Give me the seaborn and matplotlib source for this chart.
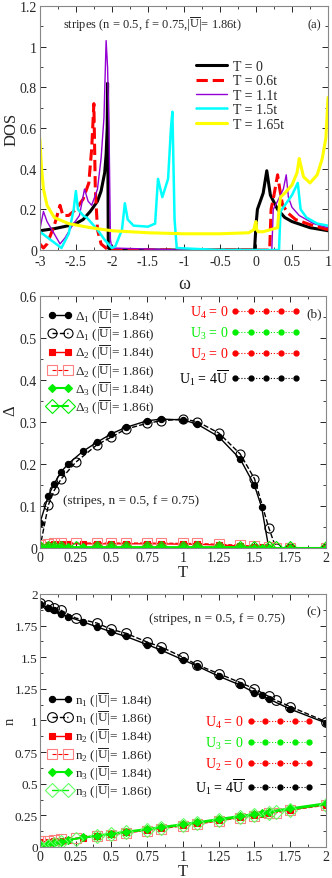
import numpy as np
import pandas as pd
import seaborn as sns
import matplotlib.pyplot as plt
from matplotlib.lines import Line2D
from matplotlib.ticker import MultipleLocator

# ---- panel (a): DOS curves ----
w_t0 = [-3, -2.8, -2.6, -2.5, -2.4, -2.3, -2.2, -2.15, -2.1, -2.08, -2.065, -2.06, -2.05, -2.0, -1.0, -0.02, 0.0, 0.02,
        0.05, 0.1, 0.15, 0.2, 0.3, 0.4, 0.5, 0.75, 1.0]
dos_t0 = [0.095, 0.105, 0.12, 0.13, 0.15, 0.19, 0.24, 0.29, 0.38, 0.47, 0.6, 0.82, 0.01, 0.0, 0.0, 0.0, 0.12, 0.2,
          0.23, 0.28, 0.39, 0.27, 0.2, 0.16, 0.14, 0.11, 0.095]

w_t06 = [-3, -2.95, -2.9, -2.8, -2.72, -2.68, -2.6, -2.5, -2.4, -2.32, -2.28, -2.25, -2.23, -2.2, -2.15, -2.05, -1.0,
         0.19, 0.21, 0.25, 0.3, 0.33, 0.37, 0.45, 0.55, 0.75, 1.0]
dos_t06 = [0.03, 0.01, 0.03, 0.12, 0.22, 0.17, 0.17, 0.2, 0.25, 0.33, 0.5, 0.72, 0.3, 0.1, 0.03, 0.0, 0.0,
           0.0, 0.2, 0.27, 0.37, 0.3, 0.22, 0.18, 0.15, 0.125, 0.1]

w_t11 = [-3, -2.95, -2.9, -2.8, -2.72, -2.65, -2.55, -2.45, -2.38, -2.33, -2.28, -2.2, -2.15, -2.11, -2.08, -2.06,
         -2.04, -2.02, -2.0, -1.0, 0.22, 0.24, 0.3, 0.38, 0.42, 0.45, 0.5, 0.6, 0.8, 1.0]
dos_t11 = [0.1, 0.19, 0.14, 0.08, 0.03, 0.06, 0.12, 0.17, 0.3, 0.24, 0.22, 0.3, 0.45, 0.65, 1.03, 0.9,
           0.6, 0.05, 0.01, 0.0, 0.0, 0.2, 0.24, 0.3, 0.37, 0.26, 0.21, 0.17, 0.13, 0.11]

w_t15 = [-3, -2.85, -2.7, -2.6, -2.53, -2.5, -2.47, -2.4, -2.35, -2.2, -2.1, -2.0, -1.95, -1.86, -1.82, -1.78,
         -1.7, -1.5, -1.4, -1.36, -1.3, -1.22, -1.18, -1.16, -1.13, -1.1, -0.5, 0.32, 0.34, 0.4, 0.5, 0.58,
         0.62, 0.7, 0.85, 1.0]
dos_t15 = [0.09, 0.05, 0.01, 0.08, 0.2, 0.29, 0.2, 0.17, 0.16, 0.1, 0.05, 0.01, 0.02, 0.1, 0.23, 0.15,
           0.12, 0.115, 0.13, 0.35, 0.26, 0.35, 0.6, 0.68, 0.15, 0.01, 0.0, 0.0, 0.19, 0.22, 0.27, 0.33,
           0.2, 0.16, 0.13, 0.12]

w_t165 = [-3, -2.98, -2.95, -2.9, -2.8, -2.6, -2.3, -2.0, -1.5, -1.0, -0.5, -0.1, -0.03, -0.01, 0.0, 0.01,
          0.03, 0.1, 0.2, 0.3, 0.32, 0.34, 0.4, 0.5, 0.57, 0.6, 0.62, 0.66, 0.75, 0.85, 0.92, 0.97, 1.0]
dos_t165 = [0.55, 0.42, 0.3, 0.22, 0.16, 0.13, 0.11, 0.095, 0.085, 0.08, 0.08, 0.085, 0.1, 0.13, 0.14, 0.1,
            0.09, 0.09, 0.1, 0.11, 0.2, 0.26, 0.28, 0.32, 0.38, 0.45, 0.42, 0.36, 0.33, 0.37, 0.45, 0.55, 0.75]

# ---- panels (b) and (c) ----
T_a = [0, 0.06, 0.1, 0.15, 0.2, 0.3, 0.4, 0.5, 0.6, 0.75, 0.85, 1.0, 1.1, 1.25, 1.4, 1.5, 1.55, 1.6, 1.75, 2.0]
T_b = [0, 0.06, 0.1, 0.15, 0.25, 0.4, 0.5, 0.6, 0.75, 0.85, 1.0, 1.1, 1.25, 1.4, 1.5, 1.6, 1.65, 1.75, 2.0]

d1_a = [0.059, 0.125, 0.153, 0.182, 0.201, 0.23, 0.252, 0.272, 0.287, 0.303, 0.307, 0.305, 0.295, 0.265, 0.212,
        0.149, 0.097, 0.0, 0.0, 0.0]
d1_b = [0.0, 0.103, 0.137, 0.165, 0.204, 0.246, 0.264, 0.283, 0.297, 0.303, 0.307, 0.301, 0.274, 0.224, 0.165,
        0.048, 0.0, 0.0, 0.0]
d2_a = [0.006, 0.008, 0.009, 0.01, 0.01, 0.01, 0.01, 0.01, 0.01, 0.01, 0.01, 0.009, 0.009, 0.007, 0.005,
        0.003, 0.002, 0.001, 0.0, 0.0]
d2_b = [0.008, 0.01, 0.011, 0.012, 0.012, 0.012, 0.012, 0.012, 0.012, 0.012, 0.011, 0.011, 0.009, 0.007, 0.004,
        0.002, 0.0, 0.0, 0.0]
d3_a = [0.002, 0.002, 0.002, 0.002, 0.002, 0.002, 0.002, 0.002, 0.002, 0.002, 0.002, 0.002, 0.002, 0.002, 0.002,
        0.001, 0.001, 0.0, 0.0, 0.0]
d3_b = [0.0, 0.001, 0.001, 0.001, 0.001, 0.001, 0.001, 0.001, 0.001, 0.001, 0.001, 0.001, 0.001, 0.001, 0.001,
        0.001, 0.0, 0.0, 0.0]

n1_a = [1.92, 1.89, 1.87, 1.84, 1.82, 1.78, 1.74, 1.70, 1.665, 1.60, 1.555, 1.48, 1.43, 1.35, 1.28, 1.22, 1.2,
        1.17, 1.09, 0.98]
n1_b = [1.93, 1.91, 1.89, 1.87, 1.81, 1.77, 1.72, 1.69, 1.62, 1.58, 1.50, 1.44, 1.37, 1.30, 1.25, 1.19, 1.16,
        1.11, 0.99]
n2_a = [0.04, 0.042, 0.045, 0.05, 0.058, 0.072, 0.087, 0.1, 0.115, 0.135, 0.15, 0.172, 0.187, 0.21, 0.235, 0.25,
        0.26, 0.27, 0.295, 0.335]
n2_b = [0.05, 0.05, 0.055, 0.06, 0.07, 0.085, 0.095, 0.11, 0.13, 0.145, 0.165, 0.18, 0.205, 0.23, 0.245, 0.265,
        0.27, 0.29, 0.33]
n3_a = [0.02, 0.025, 0.03, 0.04, 0.055, 0.075, 0.09, 0.105, 0.12, 0.142, 0.157, 0.18, 0.195, 0.22, 0.245, 0.26,
        0.27, 0.28, 0.305, 0.345]
n3_b = [0.0, 0.01, 0.02, 0.04, 0.065, 0.085, 0.1, 0.115, 0.135, 0.15, 0.172, 0.188, 0.21, 0.235, 0.25, 0.27,
        0.28, 0.295, 0.335]

dos_curves = [
    ('T = 0', w_t0, dos_t0, 'black', '-', 2.2),
    ('T = 0.6t', w_t06, dos_t06, 'red', '--', 2.2),
    ('T = 1.1t', w_t11, dos_t11, '#9400d3', '-', 1.0),
    ('T = 1.5t', w_t15, dos_t15, 'cyan', '-', 1.8),
    ('T = 1.65t', w_t165, dos_t165, 'yellow', '-', 2.2),
]

U = r'$|\overline{\mathrm{U}}|$'
GREEN = '#00ee00'

sns.set_theme(style='ticks')
plt.rcParams['font.family'] = ['Liberation Serif', 'DejaVu Serif']
plt.rcParams['mathtext.fontset'] = 'custom'
plt.rcParams['mathtext.rm'] = 'Liberation Serif'
plt.rcParams['mathtext.it'] = 'Liberation Serif:italic'
plt.rcParams['mathtext.bf'] = 'Liberation Serif:bold'
plt.rcParams['axes.unicode_minus'] = False


def style_axes(ax, xmaj, xmin, ymaj, ymin):
    ax.xaxis.set_major_locator(MultipleLocator(xmaj))
    ax.xaxis.set_minor_locator(MultipleLocator(xmin))
    ax.yaxis.set_major_locator(MultipleLocator(ymaj))
    ax.yaxis.set_minor_locator(MultipleLocator(ymin))
    ax.tick_params(which='both', direction='in', top=True, right=True, labelsize=10, pad=2)
    ax.tick_params(which='major', length=4, width=0.7)
    ax.tick_params(which='minor', length=2, width=0.6)
    for s in ax.spines.values():
        s.set_linewidth(0.8)
        s.set_color('#888888')
    ax.xaxis.set_major_formatter(plt.FuncFormatter(lambda v, p: f'{v:g}'))
    ax.yaxis.set_major_formatter(plt.FuncFormatter(lambda v, p: f'{v:g}'))


def u_legend(ax, anchor, hl):
    cols = ['red', GREEN, 'red', 'black']
    labs = [r'U$_4$ = 0', r'U$_3$ = 0', r'U$_2$ = 0', r'U$_1$ = 4$\overline{\mathrm{U}}$']
    hs = [Line2D([], [], color=c, ls=':', lw=0.8, marker='o', ms=3.5) for c in cols]
    leg = ax.legend(hs, labs, loc='upper right', bbox_to_anchor=anchor, numpoints=5, markerfirst=False,
                    handlelength=hl, frameon=False, fontsize=10, labelspacing=0.35, handletextpad=0.2,
                    borderaxespad=0.2, labelcolor=cols)
    return leg


def series(ax, T, y, color, marker, ms, filled, ls, lw, label, mec=None):
    df = pd.DataFrame({'T': T, 'y': y})
    sns.lineplot(data=df, x='T', y='y', ax=ax, color=color, lw=lw, linestyle=ls, marker=marker, ms=ms,
                 mfc=color if filled else 'none', mec=mec or color, mew=0.8, label=label,
                 estimator=None, sort=False)


fig = plt.figure(figsize=(3.32, 8.79), dpi=100)
ax1 = fig.add_axes([0.12, 0.7144, 0.868, 0.2776])
ax2 = fig.add_axes([0.12, 0.3754, 0.862, 0.2867])
ax3 = fig.add_axes([0.12, 0.0353, 0.862, 0.2878])

# (a)
for lab, w, d, c, ls, lw in dos_curves:
    sns.lineplot(x=w, y=d, ax=ax1, color=c, linestyle=ls, lw=lw, label=lab, sort=False, estimator=None)
ax1.set_xlim(-3, 1)
ax1.set_ylim(0, 1.2)
style_axes(ax1, 0.5, 0.25, 0.2, 0.1)
ax1.tick_params(axis='x', pad=3.5)
ax1.set_xlabel('ω', fontsize=13, labelpad=5)
ax1.set_ylabel('DOS', fontsize=12)
ax1.yaxis.set_label_coords(-0.072, 0.5)
ax1.legend(loc='upper left', bbox_to_anchor=(0.5, 0.83), frameon=False, fontsize=10, handlelength=2.2,
           labelspacing=0.1, handletextpad=0.4)
ax1.text(0.08, 0.925, 'stripes (n = 0.5, f = 0.75,' + U + '= 1.86t)', transform=ax1.transAxes, fontsize=9,
         va='center')
ax1.text(0.93, 0.925, '(a)', transform=ax1.transAxes, fontsize=9, va='center')

# (b)
series(ax2, T_a, d1_a, 'black', 'o', 4.5, True, '-', 1.0, r'$\Delta_1$ (' + U + '= 1.84t)')
series(ax2, T_b, d1_b, 'black', 'o', 6.5, False, '--', 1.0, r'$\Delta_1$ (' + U + '= 1.86t)')
series(ax2, T_a, d2_a, 'red', 's', 4.5, True, '-', 1.0, r'$\Delta_2$ (' + U + '= 1.84t)')
series(ax2, T_b, d2_b, 'red', 's', 7, False, '--', 0.8, r'$\Delta_2$ (' + U + '= 1.86t)', mec='#ff8080')
series(ax2, T_a, d3_a, GREEN, 'D', 4.5, True, '-', 1.5, r'$\Delta_3$ (' + U + '= 1.84t)')
series(ax2, T_b, d3_b, GREEN, 'D', 7.5, False, '-', 1.5, r'$\Delta_3$ (' + U + '= 1.86t)')
ax2.set_xlim(0, 2)
ax2.set_ylim(0, 0.6)
style_axes(ax2, 0.25, 0.125, 0.1, 0.05)
ax2.set_xlabel('T', fontsize=12, labelpad=0)
ax2.set_ylabel('Δ', fontsize=12)
ax2.yaxis.set_label_coords(-0.075, 0.55)
leg = ax2.legend(loc='upper left', bbox_to_anchor=(0.0, 0.99), frameon=False, fontsize=9.5, handlelength=1.8,
                 numpoints=2, labelspacing=0.0, handletextpad=0.3, borderaxespad=0.2)
ax2.add_artist(leg)
u_legend(ax2, (0.94, 1.0), 5.0)
ax2.text(0.08, 0.19, '(stripes, n = 0.5, f = 0.75)', transform=ax2.transAxes, fontsize=9.5, va='center')
ax2.text(0.93, 0.93, '(b)', transform=ax2.transAxes, fontsize=9.5, va='center')

# (c)
series(ax3, T_a, n1_a, 'black', 'o', 4.5, True, '-', 1.0, r'n$_1$ (' + U + '= 1.84t)')
series(ax3, T_b, n1_b, 'black', 'o', 7, False, '--', 1.0, r'n$_1$ (' + U + '= 1.86t)')
series(ax3, T_a, n2_a, 'red', 's', 4.5, True, '-', 1.0, r'n$_2$ (' + U + '= 1.84t)')
series(ax3, T_b, n2_b, 'red', 's', 7, False, '--', 0.8, r'n$_2$ (' + U + '= 1.86t)', mec='#ff8080')
series(ax3, T_a, n3_a, GREEN, 'D', 4.5, True, '-', 1.5, r'n$_3$ (' + U + '= 1.84t)')
series(ax3, T_b, n3_b, GREEN, 'D', 7.5, False, '-', 1.0, r'n$_3$ (' + U + '= 1.86t)', mec='#66ff66')
ax3.set_xlim(0, 2)
ax3.set_ylim(0, 2)
style_axes(ax3, 0.25, 0.125, 0.25, 0.125)
ax3.tick_params(axis='y', pad=1.5, labelsize=9.5)
ax3.set_xlabel('T', fontsize=12, labelpad=0)
ax3.set_ylabel('n', fontsize=10.5)
ax3.yaxis.set_label_coords(-0.081, 0.5)
leg = ax3.legend(loc='upper left', bbox_to_anchor=(0.0, 0.65), frameon=False, fontsize=9.5, handlelength=1.8,
                 numpoints=2, labelspacing=0.0, handletextpad=0.3, borderaxespad=0.2)
ax3.add_artist(leg)
u_legend(ax3, (0.985, 0.56), 4.8)
ax3.text(0.62, 0.905, '(stripes, n = 0.5, f = 0.75)', transform=ax3.transAxes, fontsize=9.5, va='center',
         ha='center')
ax3.text(0.93, 0.93, '(c)', transform=ax3.transAxes, fontsize=9.5, va='center')

fig.savefig('out.png', dpi=100)
